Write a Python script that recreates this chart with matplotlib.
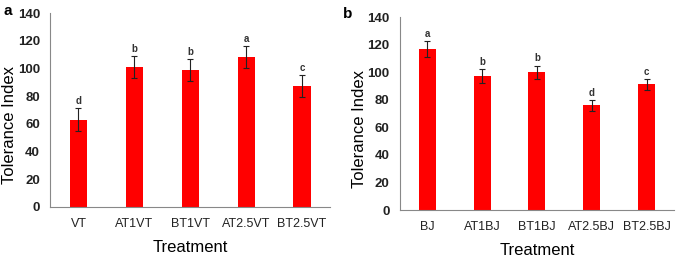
import matplotlib.pyplot as plt

plt.rcParams['font.family'] = ['Liberation Sans', 'DejaVu Sans']

# panel a
cats_a = ['VT', 'AT1VT', 'BT1VT', 'AT2.5VT', 'BT2.5VT']
vals_a = [63, 101, 99, 108, 87.5]
err_a = [8, 8, 8, 8, 8]
let_a = ['d', 'b', 'b', 'a', 'c']

# panel b
cats_b = ['BJ', 'AT1BJ', 'BT1BJ', 'AT2.5BJ', 'BT2.5BJ']
vals_b = [117, 97.5, 100, 76, 91.5]
err_b = [5.5, 5, 5, 4, 4]
let_b = ['a', 'b', 'b', 'd', 'c']

fig = plt.figure(figsize=(6.76, 2.61), dpi=100)
ax1 = fig.add_axes([0.0747, 0.208, 0.4135, 0.742])
ax2 = fig.add_axes([0.5917, 0.1954, 0.4053, 0.738])


def panel(ax, cats, vals, errs, lets):
    x = range(len(cats))
    ax.bar(x, vals, width=0.31, color='#ff0000', zorder=2)
    ax.errorbar(x, vals, yerr=errs, fmt='none', ecolor='#222222',
                elinewidth=0.8, capsize=2, capthick=0.8, zorder=3)
    for i, (v, e, l) in enumerate(zip(vals, errs, lets)):
        ax.text(i, v + e + 1.5, l, ha='center', va='bottom', fontsize=7,
                fontweight='bold', color='#333333')
    ax.set_xlim(-0.5, 4.5)
    ax.set_ylim(0, 140)
    ax.set_yticks(range(0, 141, 20))
    ax.set_xticks(list(x))
    ax.set_xticklabels(cats, fontsize=9)
    for t in ax.get_yticklabels():
        t.set_fontweight('bold')
        t.set_fontsize(9.5)
    ax.tick_params(length=0, colors='#222222')
    ax.tick_params(axis='y', pad=7.5)
    ax.tick_params(axis='x', pad=8)
    for s in ['top', 'right']:
        ax.spines[s].set_visible(False)
    for s in ['left', 'bottom']:
        ax.spines[s].set_color('#888888')
        ax.spines[s].set_linewidth(0.8)
    ax.set_xlabel('Treatment', fontsize=12, labelpad=7)
    ax.set_ylabel('Tolerance Index', fontsize=12)
    ax.yaxis.set_label_coords(-0.12, 0.42)


panel(ax1, cats_a, vals_a, err_a, let_a)
panel(ax2, cats_b, vals_b, err_b, let_b)

fig.text(0.005, 0.985, 'a', fontsize=11, fontweight='bold', va='top')
fig.text(0.508, 0.975, 'b', fontsize=11, fontweight='bold', va='top')

fig.savefig('out.png', dpi=100)
